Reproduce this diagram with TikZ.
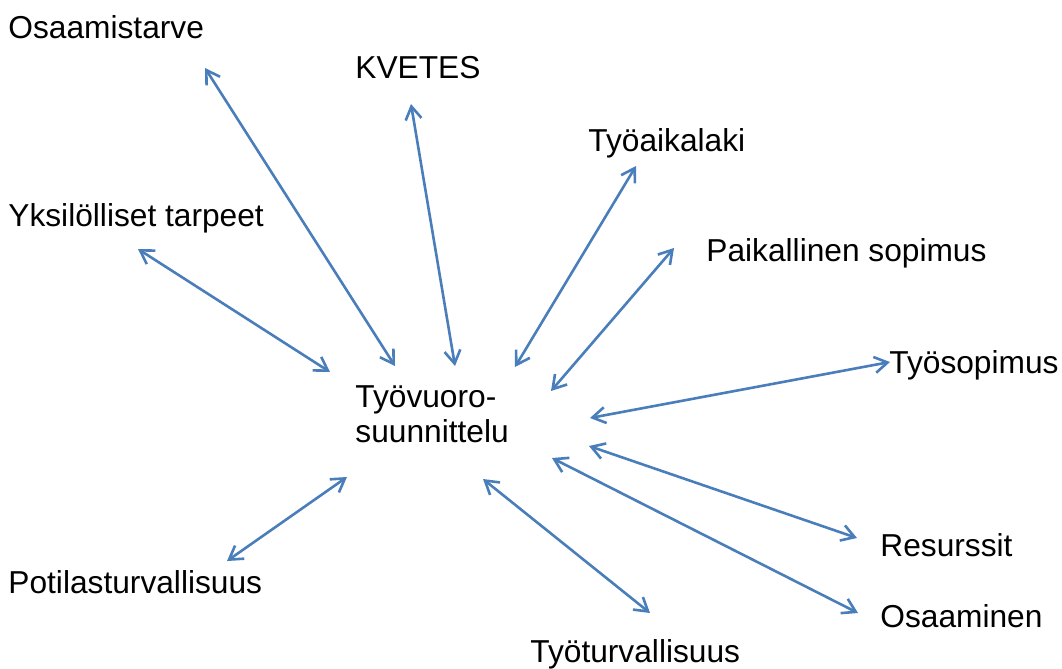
\documentclass[tikz,border=0pt]{standalone}
\usepackage{fontspec}
\setmainfont{Liberation Sans}
\usetikzlibrary{arrows.meta}
\definecolor{arrowblue}{HTML}{4A7EBB}
\tikzset{
  lbl/.style={anchor=base west,inner sep=0pt,font=\fontsize{15.85}{19}\selectfont,text=black},
  link/.style={draw=arrowblue,line width=1.3pt,{Straight Barb[length=6.5pt,width=8pt,line width=1.3pt]}-{Straight Barb[length=6.5pt,width=8pt,line width=1.3pt]}}
}
\begin{document}
\begin{tikzpicture}[x=0.5pt,y=-0.5pt]
\useasboundingbox (0,0) rectangle (1062,669);
\node[lbl] (osaamistarve) at (8,39) {Osaamistarve};
\node[lbl] (kvetes) at (355,78) {KVETES};
\node[lbl] (tyoaika) at (588,151) {Työaikalaki};
\node[lbl] (yksil) at (8,226) {Yksilölliset tarpeet};
\node[lbl] (paik) at (706,261) {Paikallinen sopimus};
\node[lbl] (tyosop) at (889,373) {Työsopimus};
\node[lbl,align=left,anchor=north west] (center) at (355,385) {Työvuoro-\\[-1.5pt]suunnittelu};
\node[lbl] (resurssit) at (880,556) {Resurssit};
\node[lbl] (potilas) at (8,593) {Potilasturvallisuus};
\node[lbl] (osaaminen) at (880,627) {Osaaminen};
\node[lbl] (tyoturva) at (530,662) {Työturvallisuus};

\coordinate (a1) at (205,68);  \coordinate (b1) at (395,366);
\coordinate (a2) at (411,104); \coordinate (b2) at (455,366);
\coordinate (a3) at (636,166); \coordinate (b3) at (515,367);
\coordinate (a4) at (138,249); \coordinate (b4) at (330,372);
\coordinate (a5) at (674,248); \coordinate (b5) at (551,391);
\coordinate (a6) at (890,362); \coordinate (b6) at (590,418);
\coordinate (a7) at (857,538); \coordinate (b7) at (589,446);
\coordinate (a8) at (858,613); \coordinate (b8) at (552,458);
\coordinate (a9) at (650,613); \coordinate (b9) at (483,479);
\coordinate (a10) at (227,561); \coordinate (b10) at (347,477);

\foreach \i in {1,...,10} {\draw[link] (a\i) -- (b\i);}
\end{tikzpicture}
\end{document}
